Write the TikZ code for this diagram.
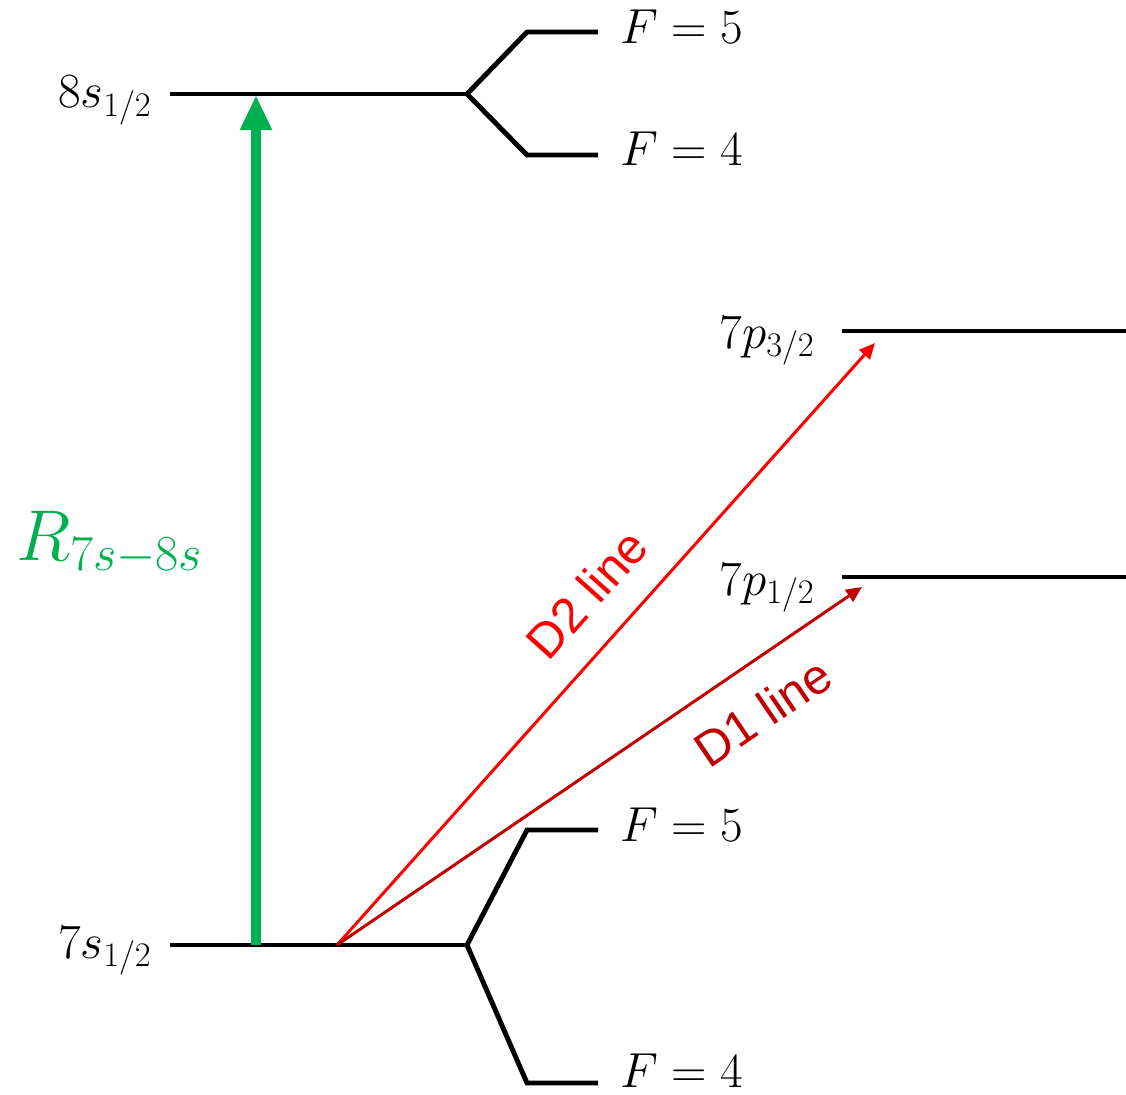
\documentclass[tikz,border=0pt]{standalone}
\usepackage{fix-cm}
\usepackage{fontspec}
\newfontfamily\arialfont{Liberation Sans}
\usetikzlibrary{arrows.meta}
\definecolor{pumpgreen}{HTML}{00B050}
\definecolor{dtwored}{HTML}{FF0000}
\definecolor{donered}{HTML}{C00000}
\tikzset{
  level/.style={line width=2.8pt, black},
  lvllabel/.style={inner sep=0pt, font=\fontsize{28}{34}\selectfont},
  dline/.style={line width=1.7pt, -{Triangle[length=9pt,width=8pt]}},
  dlabel/.style={sloped, inner sep=0pt, font=\arialfont\fontsize{28}{34}\selectfont}
}
\begin{document}
\begin{tikzpicture}[x=0.02cm, y=-0.02cm]
  \useasboundingbox (0,0) rectangle (1126,1095);
  % level positions
  \coordinate (s8L) at (170,94);   \coordinate (s8R) at (467,94);
  \coordinate (s7L) at (170,945);  \coordinate (s7R) at (467,945);
  \coordinate (p3L) at (842,331);  \coordinate (p3R) at (1126,331);
  \coordinate (p1L) at (842,577);  \coordinate (p1R) at (1126,577);

  % 8s with hyperfine splitting
  \draw[level] (s8L) -- (s8R);
  \draw[level] (s8R) -- (527,32) -- (598,32);
  \draw[level] (s8R) -- (527,155) -- (598,155);
  \node[lvllabel, anchor=base east] (s8lab) at (152,108) {$8s_{1/2}$};
  \node[lvllabel, anchor=base west] (s8F5) at (620,44) {$F=5$};
  \node[lvllabel, anchor=base west] (s8F4) at (620,166) {$F=4$};

  % 7s with hyperfine splitting
  \draw[level] (s7L) -- (s7R);
  \draw[level] (s7R) -- (527,830) -- (598,830);
  \draw[level] (s7R) -- (527,1083) -- (598,1083);
  \node[lvllabel, anchor=base east] (s7lab) at (152,958) {$7s_{1/2}$};
  \node[lvllabel, anchor=base west] (s7F5) at (620,841) {$F=5$};
  \node[lvllabel, anchor=base west] (s7F4) at (620,1087) {$F=4$};

  % 7p levels
  \draw[level] (p3L) -- (p3R);
  \draw[level] (p1L) -- (p1R);
  \node[lvllabel, anchor=base east] (p3lab) at (815,348) {$7p_{3/2}$};
  \node[lvllabel, anchor=base east] (p1lab) at (815,595) {$7p_{1/2}$};

  % 7s-8s transition
  \coordinate (gbot) at (256,945);
  \coordinate (gtop) at (256,95);
  \draw[pumpgreen, line width=5.7pt, -{Triangle[length=20pt,width=17pt]}] (gbot) -- (gtop);
  \node[pumpgreen, inner sep=0pt, anchor=base west, font=\fontsize{41}{48}\selectfont] (rlab) at (16,560) {$R_{7s-8s}$};

  % D lines
  \coordinate (dstart) at (337,945);
  \coordinate (d2tip) at (875,343);
  \coordinate (d1tip) at (862,587);
  \draw[dline, dtwored] (dstart) -- (d2tip)
    node[dlabel, pos=0.53, above=16pt, text=dtwored] (d2lab) {D2 line};
  \draw[dline, donered] (dstart) -- (d1tip)
    node[dlabel, pos=0.76, below=16pt, text=donered] (d1lab) {D1 line};
\end{tikzpicture}
\end{document}
